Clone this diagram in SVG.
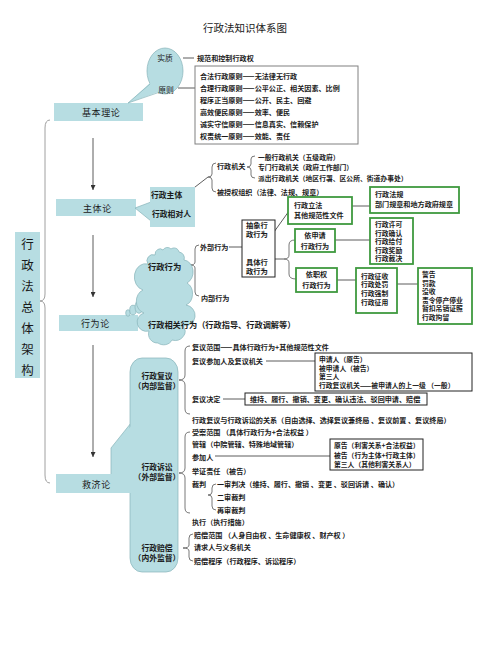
<svg xmlns="http://www.w3.org/2000/svg" width="490" height="653" viewBox="0 0 490 653">
<defs>
<style>
.t{font-family:"Noto Sans CJK SC","Noto Sans",sans-serif;fill:#1a1a1a;dominant-baseline:central}
.s{font-size:7.1px;font-weight:600}
.d{font-size:6.8px;font-weight:600}
.m{font-size:9px;letter-spacing:0.6px}
.b8{font-size:7.8px;font-weight:600}
.mid{text-anchor:middle}
.blue{fill:#b7dde2}
.bo{stroke:#86b3b9;stroke-width:0.7}
.ln{stroke:#333;stroke-width:0.8;fill:none}
.br{stroke:#555;stroke-width:0.8;fill:none}
.gb{fill:#fff;stroke:#3f9a3f;stroke-width:1.8}
.bb{fill:#fff;stroke:#222;stroke-width:1}
.gy{fill:#fff;stroke:#808080;stroke-width:1}
</style>
<marker id="ah" markerWidth="5" markerHeight="5" refX="5" refY="2.5" orient="auto" markerUnits="userSpaceOnUse">
<path d="M0,0 L5,2.5 L0,5 z" fill="#333"/>
</marker>
</defs>
<rect width="490" height="653" fill="#fff"/>

<text class="t mid" x="245" y="27" style="font-size:10.5px">行政法知识体系图</text>

<g id="root">
<rect class="blue" x="15" y="232" width="25" height="146"/>
<text class="t mid" x="27.5" y="243" style="font-size:12.5px">行</text>
<text class="t mid" x="27.5" y="264" style="font-size:12.5px">政</text>
<text class="t mid" x="27.5" y="285" style="font-size:12.5px">法</text>
<text class="t mid" x="27.5" y="306" style="font-size:12.5px">总</text>
<text class="t mid" x="27.5" y="327" style="font-size:12.5px">体</text>
<text class="t mid" x="27.5" y="348" style="font-size:12.5px">架</text>
<text class="t mid" x="27.5" y="369" style="font-size:12.5px">构</text>
</g>

<g id="connectors">
<path class="br" style="stroke:#888" d="M50,120 Q45,120 45,128 L45,294 Q45,301 40,301 Q45,301 45,308 L45,475 Q45,483 50,483"/>
<line class="ln" x1="93" y1="138" x2="93" y2="190" marker-end="url(#ah)"/>
<line class="ln" x1="93" y1="235" x2="93" y2="297" marker-end="url(#ah)"/>
<line class="ln" x1="93" y1="345" x2="93" y2="457" marker-end="url(#ah)"/>
<line class="ln" x1="183" y1="58" x2="194" y2="58"/>
<line class="ln" x1="178" y1="88" x2="195" y2="88"/>
<line class="ln" x1="186" y1="194" x2="208" y2="177"/>
<path class="br" d="M216,163 Q212,163 212,167 L212,174 Q212,177 208,177 Q212,177 212,180 L212,188 Q212,192 216,192"/>
<path class="br" d="M255,156 Q251,156 251,159 L251,164 Q251,167 247,167 Q251,167 251,170 L251,175 Q251,178 255,178"/>
<line class="ln" x1="183" y1="265" x2="190" y2="265"/>
<path class="br" d="M199,245 Q195,245 195,249 L195,262 Q195,265 190,265 Q195,265 195,268 L195,292 Q195,296 199,296"/>
<line class="ln" x1="229" y1="247" x2="242" y2="247"/>
<line class="ln" x1="274" y1="232" x2="289" y2="211"/>
<line class="ln" x1="334" y1="206" x2="370" y2="206"/>
<line class="ln" x1="275" y1="259" x2="284" y2="259"/>
<path class="br" d="M295,240 Q289,240 289,245 L289,255 Q289,259 284,259 Q289,259 289,263 L289,274 Q289,279 296,279"/>
<line class="ln" x1="335" y1="240" x2="370" y2="240"/>
<line class="ln" x1="337" y1="280" x2="356" y2="280"/>
<line class="ln" x1="393" y1="284" x2="418" y2="284"/>
<path class="br" d="M190,346 Q185,346 185,351 L185,375 Q185,380 179,380 Q185,380 185,385 L185,409 Q185,414 190,414"/>
<line class="ln" x1="266" y1="361" x2="315" y2="361"/>
<line class="ln" x1="223" y1="399" x2="245" y2="399"/>
<path class="br" d="M190,432 Q185,432 185,437 L185,468 Q185,473 179,473 Q185,473 185,478 L185,508 Q185,513 190,513"/>
<line class="ln" x1="215" y1="456" x2="330" y2="456"/>
<path class="br" d="M216,484 Q212,484 212,488 L212,492 Q212,495 208,495 Q212,495 212,498 L212,506 Q212,510 216,510"/>
<path class="br" d="M193,534 Q189,534 189,538 L189,545 Q189,548 183,548 Q189,548 189,551 L189,557 Q189,561 193,561"/>
</g>

<g id="node-jiben">
<rect class="blue" x="54" y="103" width="89" height="18"/>
<text class="t m" x="82" y="112.5">基本理论</text>
</g>

<g id="node-bubble1">
<ellipse class="blue bo" cx="165" cy="71" rx="18" ry="23"/>
<polygon class="blue" points="150,83 128,103 161,91"/>
<polyline class="bo" fill="none" points="150,84 128,103 160,92"/>
<text class="t mid" x="165" y="57" style="font-size:7.8px">实质</text>
<text class="t mid" x="166" y="89" style="font-size:7.8px">原则</text>
</g>

<g id="node-essence">
<text class="t s" x="197" y="58">规范和控制行政权</text>
</g>

<g id="node-principles">
<rect class="gy" x="195" y="66" width="163" height="78"/>
<text class="t s" x="200" y="76">合法行政原则——无法律无行政</text>
<text class="t s" x="200" y="88">合理行政原则——公平公正、相关因素、比例</text>
<text class="t s" x="200" y="100">程序正当原则——公开、民主、回避</text>
<text class="t s" x="200" y="112">高效便民原则——效率、便民</text>
<text class="t s" x="200" y="124">诚实守信原则——信息真实、信赖保护</text>
<text class="t s" x="200" y="136">权责统一原则——效能、责任</text>
</g>

<g id="node-zhuti">
<rect class="blue" x="56" y="199" width="80" height="17"/>
<text class="t m" x="83" y="208">主体论</text>
</g>

<g id="node-zhuti-box">
<polygon class="blue" points="135,208 151,202 151,221"/>
<polyline class="bo" fill="none" points="151,202 135,208 151,221"/>
<rect class="blue" x="150" y="187" width="45" height="40"/>
<text class="t b8" x="151" y="194">行政主体</text>
<text class="t b8" x="152" y="213">行政相对人</text>
</g>

<g id="node-agencies">
<text class="t s" x="217" y="166">行政机关</text>
<text class="t s" x="217" y="192">被授权组织（法律、法规、规章）</text>
<text class="t d" x="258" y="156.5">一般行政机关（五级政府）</text>
<text class="t d" x="258" y="167">专门行政机关（政府工作部门）</text>
<text class="t d" x="258" y="178">派出行政机关（地区行署、区公所、街道办事处）</text>
</g>

<g id="node-xingwei">
<rect class="blue" x="59" y="315" width="79" height="16"/>
<text class="t m" x="81" y="323">行为论</text>
</g>

<g id="node-cloud">
<ellipse class="blue bo" cx="128" cy="313" rx="2.3" ry="3.3"/>
<ellipse class="blue bo" cx="133" cy="310" rx="3.3" ry="4.8"/>
<ellipse class="blue bo" cx="139" cy="307" rx="4" ry="6.3"/>
<path class="blue bo" d="M148,264 A6,6 0 0 1 155,255 A5,6 0 0 1 163,250 A5,5 0 0 1 171,249 A5,5 0 0 1 179,252 A6,6 0 0 1 184,260 A10,12 0 0 1 187,283 A10,12 0 0 1 186,305 A10,10 0 0 1 183,326 A10,9 0 0 1 172,340 A9,8 0 0 1 158,343 A9,9 0 0 1 149,331 A9,9 0 0 1 144,313 A10,12 0 0 1 143,290 A10,12 0 0 1 148,264 Z"/>
<text class="t" x="148" y="266" style="font-size:8.3px;font-weight:600">行政行为</text>
</g>

<g id="node-related">
<text class="t" x="148" y="324" style="font-size:8.2px;font-weight:600">行政相关行为（行政指导、行政调解等）</text>
</g>

<g id="node-external">
<text class="t s" x="200" y="247">外部行为</text>
<text class="t s" x="201" y="298">内部行为</text>
</g>

<g id="node-abstract">
<rect class="bb" x="242" y="220" width="33" height="57"/>
<text class="t" x="246" y="224.5" style="font-size:7.3px;font-weight:600">抽象行</text>
<text class="t" x="246" y="233.5" style="font-size:7.3px;font-weight:600">政行为</text>
<text class="t" x="246" y="262" style="font-size:7.3px;font-weight:600">具体行</text>
<text class="t" x="246" y="271" style="font-size:7.3px;font-weight:600">政行为</text>
</g>

<g id="node-legislation">
<rect class="gb" x="288" y="197" width="64" height="27"/>
<text class="t s" x="294" y="205">行政立法</text>
<text class="t s" x="294" y="215">其他规范性文件</text>
</g>

<g id="node-regulations">
<rect class="gb" x="370" y="187" width="89" height="26"/>
<text class="t s" x="375" y="194">行政法规</text>
<text class="t s" x="375" y="204">部门规章和地方政府规章</text>
</g>

<g id="node-apply">
<rect class="gb" x="295" y="229" width="40" height="23"/>
<text class="t s mid" x="315" y="235">依申请</text>
<text class="t s mid" x="315" y="246">行政行为</text>
</g>

<g id="node-apply-list">
<rect class="gb" x="370" y="218" width="43" height="46"/>
<text class="t d" x="375" y="224">行政许可</text>
<text class="t d" x="375" y="232.5">行政确认</text>
<text class="t d" x="375" y="241">行政给付</text>
<text class="t d" x="375" y="249.5">行政奖励</text>
<text class="t d" x="375" y="258">行政裁决</text>
</g>

<g id="node-duty">
<rect class="gb" x="296" y="268" width="41" height="24"/>
<text class="t s mid" x="316.5" y="274">依职权</text>
<text class="t s mid" x="316.5" y="285">行政行为</text>
</g>

<g id="node-duty-list">
<rect class="gb" x="356" y="268" width="41" height="45"/>
<text class="t d" x="361" y="275.5">行政征收</text>
<text class="t d" x="361" y="284.2">行政处罚</text>
<text class="t d" x="361" y="292.9">行政强制</text>
<text class="t d" x="361" y="301.6">行政征用</text>
</g>

<g id="node-penalty">
<rect class="gb" x="418" y="268" width="54" height="56"/>
<text class="t d" x="422" y="274">警告</text>
<text class="t d" x="422" y="282.5">罚款</text>
<text class="t d" x="422" y="291">没收</text>
<text class="t d" x="422" y="299.5">责令停产停业</text>
<text class="t d" x="422" y="308">暂扣吊销证照</text>
<text class="t d" x="422" y="316.5">行政拘留</text>
</g>

<g id="node-jiuji">
<polygon class="blue" points="131,423 111,448 111,476 131,476"/>
<polyline class="bo" fill="none" points="131,423 111,448 111,474"/>
<rect class="blue bo" x="130" y="358" width="48" height="214" rx="12" ry="14"/>
<polygon class="blue" points="132,425 112,449 112,476 132,476"/>
<rect class="blue" x="56" y="474" width="77" height="19"/>
<text class="t m" x="82" y="484">救济论</text>
<text class="t mid" x="157" y="375" style="font-size:7.8px;font-weight:600">行政复议</text>
<text class="t mid" x="157" y="385" style="font-size:7.8px;font-weight:600">（内部监督）</text>
<text class="t mid" x="157" y="466" style="font-size:7.8px;font-weight:600">行政诉讼</text>
<text class="t mid" x="157" y="476" style="font-size:7.8px;font-weight:600">（外部监督）</text>
<text class="t mid" x="157" y="547" style="font-size:7.8px;font-weight:600">行政赔偿</text>
<text class="t mid" x="157" y="557" style="font-size:7.8px;font-weight:600">（内外监督）</text>
</g>

<g id="node-review">
<text class="t s" x="192" y="347">复议范围——具体行政行为+其他规范性文件</text>
<text class="t s" x="192" y="361">复议参加人及复议机关</text>
<text class="t s" x="192" y="399">复议决定</text>
<text class="t s" x="192" y="420">行政复议与行政诉讼的关系（自由选择、选择复议兼终局 、复议前置 、复议终局）</text>
</g>

<g id="node-review-parties">
<rect class="bb" x="315" y="353" width="157" height="38"/>
<text class="t d" x="319" y="359">申请人（原告）</text>
<text class="t d" x="319" y="367.5">被申请人（被告）</text>
<text class="t d" x="319" y="376">第三人</text>
<text class="t d" x="319" y="384.5">行政复议机关——被申请人的上一级 （一般）</text>
</g>

<g id="node-review-decision">
<rect class="bb" x="245" y="393" width="182" height="12"/>
<text class="t s" x="250" y="399">维持、履行、撤销、变更、确认违法、驳回申请、赔偿</text>
</g>

<g id="node-litigation">
<text class="t s" x="192" y="432">受案范围 （具体行政行为+合法权益 ）</text>
<text class="t s" x="192" y="444">管辖（中院管辖、特殊地域管辖）</text>
<text class="t s" x="192" y="457">参加人</text>
<text class="t s" x="192" y="471">举证责任 （被告）</text>
<text class="t s" x="192" y="484">裁判</text>
<text class="t s" x="217" y="484">一审判决（维持、履行、撤销 、变更 、驳回诉请 、确认）</text>
<text class="t s" x="217" y="497">二审裁判</text>
<text class="t s" x="217" y="510">再审裁判</text>
<text class="t s" x="192" y="522">执行（执行措施）</text>
</g>

<g id="node-litigation-parties">
<rect class="bb" x="330" y="439" width="93" height="31"/>
<text class="t d" x="334" y="445">原告（利害关系+合法权益）</text>
<text class="t d" x="334" y="454.5">被告（行为主体+行政主体）</text>
<text class="t d" x="334" y="464">第三人（其他利害关系人）</text>
</g>

<g id="node-compensation">
<text class="t s" x="194" y="535">赔偿范围 （人身自由权 、生命健康权 、财产权 ）</text>
<text class="t s" x="194" y="547">请求人与义务机关</text>
<text class="t s" x="194" y="561">赔偿程序（行政程序、诉讼程序）</text>
</g>
</svg>
